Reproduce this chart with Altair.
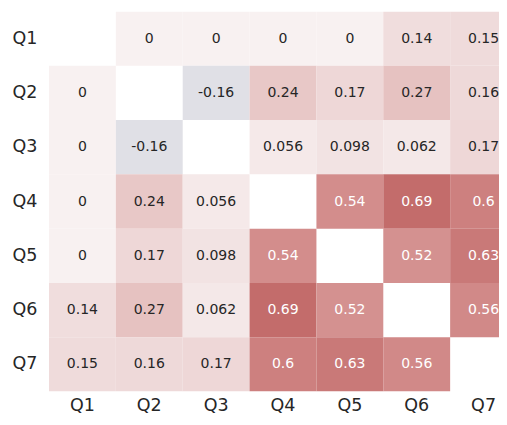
import altair as alt
import pandas as pd

labels = ["Q1", "Q2", "Q3", "Q4", "Q5", "Q6", "Q7"]
matrix = [
    [None, 0, 0, 0, 0, 0.14, 0.15],
    [0, None, -0.16, 0.24, 0.17, 0.27, 0.16],
    [0, -0.16, None, 0.056, 0.098, 0.062, 0.17],
    [0, 0.24, 0.056, None, 0.54, 0.69, 0.6],
    [0, 0.17, 0.098, 0.54, None, 0.52, 0.63],
    [0.14, 0.27, 0.062, 0.69, 0.52, None, 0.56],
    [0.15, 0.16, 0.17, 0.6, 0.63, 0.56, None],
]

records = []
for i, r in enumerate(labels):
    for j, c in enumerate(labels):
        v = matrix[i][j]
        if v is None:
            continue
        records.append({"row": r, "col": c, "v": v, "txt": format(v, ".2g")})
df = pd.DataFrame(records)

xscale = alt.Scale(domain=labels, range=[0, 468], paddingInner=0, paddingOuter=0)
yscale = alt.Scale(domain=labels, paddingInner=0, paddingOuter=0)

color_scale = alt.Scale(
    domain=[-0.16, 0, 0.14, 0.27, 0.54, 0.69],
    range=["#e0e0e6", "#f8f1f1", "#f0dddd", "#e6c2c1", "#d38d8c", "#c36c6b"],
    interpolate="rgb",
)

base = alt.Chart(df).encode(
    x=alt.X("col:N", scale=xscale, sort=labels,
            axis=alt.Axis(title=None, orient="bottom", ticks=False, domain=False,
                          labelAngle=0, labelFontSize=17.5, labelPadding=5,
                          labelColor="#262626", labelFont="DejaVu Sans", labelBaseline="top")),
    y=alt.Y("row:N", scale=yscale, sort=labels,
            axis=alt.Axis(title=None, ticks=False, domain=False, labelFontSize=17.5,
                          labelPadding=12, labelColor="#262626", labelFont="DejaVu Sans")),
)

rects = base.mark_rect(clip=True).encode(
    color=alt.Color("v:Q", scale=color_scale, legend=None)
)

texts = base.mark_text(clip=True, font="DejaVu Sans", fontSize=14).encode(
    text="txt:N",
    color=alt.condition(alt.datum.v > 0.4, alt.value("#ffffff"), alt.value("#262626")),
)

chart = (
    (rects + texts)
    .properties(width=450, height=380, autosize=alt.AutoSizeParams(type="none"),
                padding={"left": 41, "top": 3.5, "right": 0, "bottom": 25})
    .configure_view(stroke=None)
    .configure_axis(grid=False)
)

chart.save("out.html", embed_options={"renderer": "svg", "actions": False})
